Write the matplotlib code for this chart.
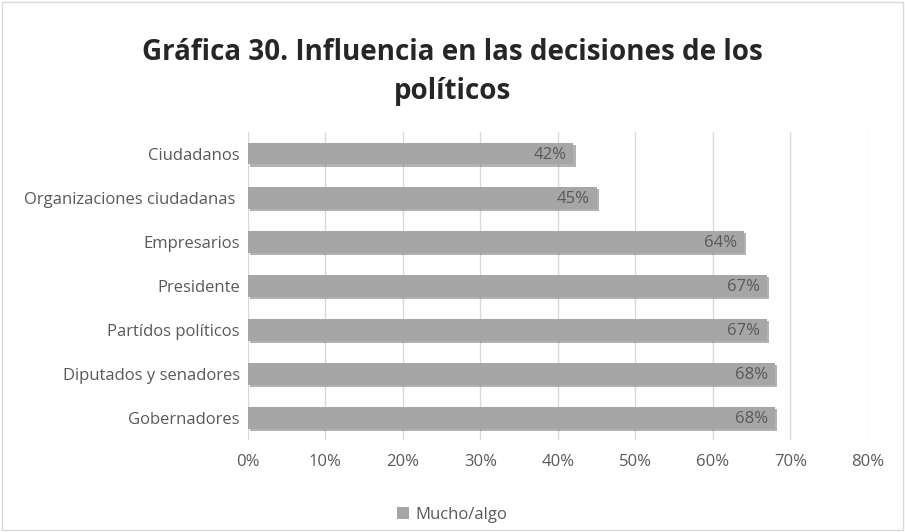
import matplotlib.pyplot as plt
import matplotlib.patheffects as pe
from matplotlib.patches import Rectangle

# --- datos ---
categorias = ["Ciudadanos", "Organizaciones ciudadanas ", "Empresarios", "Presidente",
              "Partídos políticos", "Diputados y senadores", "Gobernadores"]
valores = [42, 45, 64, 67, 67, 68, 68]
serie = "Mucho/algo"
titulo = "Gráfica 30. Influencia en las decisiones de los\npolíticos"

plt.rcParams["font.family"] = ["Open Sans", "DejaVu Sans"]
texto = "#595959"

fig = plt.figure(figsize=(9.05, 5.32), dpi=100)
ax = fig.add_axes([0.274, 0.173, 0.685, 0.579])

y = list(range(len(categorias)))[::-1]
barras = ax.barh(y, valores, height=0.48, color="#a6a6a6", zorder=3, label=serie)
for b in barras:
    b.set_path_effects([pe.SimplePatchShadow(offset=(1.5, -1.5), shadow_rgbFace="#7f7f7f", alpha=0.6),
                        pe.Normal()])

for yi, v in zip(y, valores):
    ax.text(v - 0.9, yi - 0.03, f"{v}%", ha="right", va="center", fontsize=12, color=texto, zorder=4)

ax.set_xlim(0, 80)
ax.set_ylim(-0.5, len(categorias) - 0.5)
ax.set_xticks(range(0, 81, 10))
ax.set_xticklabels([f"{t}%" for t in range(0, 81, 10)])
ax.set_yticks(y)
ax.set_yticklabels(categorias)
ax.tick_params(axis="both", length=0, labelsize=12, colors=texto)
ax.tick_params(axis="x", pad=10)
ax.tick_params(axis="y", pad=6)
ax.grid(axis="x", color="#d9d9d9", linewidth=1, zorder=0)
for s in ax.spines.values():
    s.set_visible(False)

fig.suptitle(titulo, fontsize=20, fontweight="bold", color="#262626", y=0.928, va="top",
             linespacing=1.45)

leg = fig.legend(loc="center", bbox_to_anchor=(0.5, 0.032), frameon=False, fontsize=12,
                 handlelength=0.7, handleheight=0.7, handletextpad=0.4)
for t in leg.get_texts():
    t.set_color(texto)
for h in leg.legend_handles:
    h.set_path_effects([])

fig.patches.append(Rectangle((0.002, 0.003), 0.996, 0.994, transform=fig.transFigure,
                             fill=False, edgecolor="#d9d9d9", linewidth=1))

fig.savefig("out.png", dpi=100, facecolor="white")
